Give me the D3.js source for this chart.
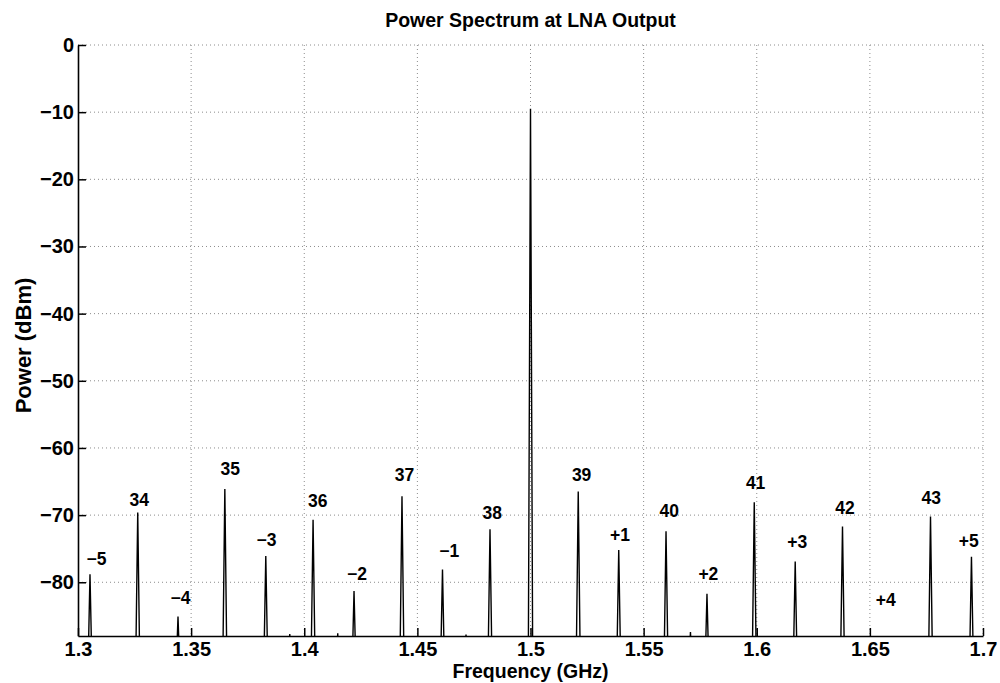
<!DOCTYPE html>
<html>
<head>
<meta charset="utf-8">
<script src="https://cdn.jsdelivr.net/npm/d3@7"></script>
<style>
  body { margin: 0; background: #fff; }
  text { font-family: "Liberation Sans", Arial, sans-serif; font-weight: bold; fill: #000; }
</style>
</head>
<body>
<svg></svg>
<script>
let width = 1000
let height = 683
let margin = { top: 45, right: 17, bottom: 47, left: 78 }

// spectral lines: frequency (GHz) and peak power (dBm)
let lineFreqs = [1.3053, 1.3264, 1.3442, 1.3649, 1.3830, 1.3936, 1.4039, 1.4148, 1.4220, 1.4432,
                 1.4611, 1.4715, 1.4821, 1.5000, 1.5211, 1.5390, 1.5599, 1.5707, 1.5780, 1.5989,
                 1.6170, 1.6379, 1.6768, 1.6949]
let linePeaks = [-78.8, -69.6, -85.1, -66.1, -76.1, -87.7, -70.7, -87.6, -81.3, -67.2,
                 -78.1, -87.8, -72.1, -9.5, -66.5, -75.2, -72.4, -87.4, -81.7, -68.1,
                 -76.9, -71.7, -70.2, -76.2]
let noiseFloor = -95

// annotations placed in data coordinates (left edge, vertical middle)
let labelTexts = ['\u22125', '34', '\u22124', '35', '\u22123', '36', '\u22122', '37', '\u22121', '38',
                  '39', '+1', '40', '+2', '41', '+3', '42', '+4', '43', '+5']
let labelFreqs = [1.3038, 1.3228, 1.3409, 1.3630, 1.3789, 1.4017, 1.4189, 1.4400, 1.4597, 1.4788,
                  1.5183, 1.5351, 1.5570, 1.5742, 1.5952, 1.6135, 1.6347, 1.6526, 1.6728, 1.6893]
let labelPowers = [-76.5, -67.7, -82.3, -63.1, -73.7, -67.9, -78.8, -64.0, -75.3, -69.7,
                   -64.0, -72.9, -69.3, -78.8, -65.2, -74.0, -68.9, -82.6, -67.5, -73.9]

let xTicks = [1.3, 1.35, 1.4, 1.45, 1.5, 1.55, 1.6, 1.65, 1.7]
let yTicks = [0, -10, -20, -30, -40, -50, -60, -70, -80]

let x = d3.scaleLinear()
          .domain([1.3, 1.7])
          .range([margin.left, width - margin.right])

let y = d3.scaleLinear()
          .domain([-88, 0])
          .range([height - margin.bottom, margin.top])

let svg = d3.select('svg')
    .attr('width', width)
    .attr('height', height)

svg.append('defs')
  .append('clipPath')
    .attr('id', 'plot-clip')
  .append('rect')
    .attr('x', x(1.3))
    .attr('y', y(0))
    .attr('width', x(1.7) - x(1.3))
    .attr('height', y(-88) - y(0))

// dotted grid
let grid = svg.append('g')
    .attr('stroke', '#8c8c8c')
    .attr('stroke-width', 1)
    .attr('stroke-dasharray', '1,3')

grid.selectAll('.vgrid')
  .data(xTicks.slice(1))
  .enter()
  .append('line')
    .attr('x1', d => x(d))
    .attr('x2', d => x(d))
    .attr('y1', y(0))
    .attr('y2', y(-88))

grid.selectAll('.hgrid')
  .data(yTicks)
  .enter()
  .append('line')
    .attr('x1', x(1.3))
    .attr('x2', x(1.7))
    .attr('y1', d => y(d))
    .attr('y2', d => y(d))

// spectrum trace
let halfWidth = 0.001
let points = []
lineFreqs.forEach((f, i) => {
  points.push([f - halfWidth, noiseFloor])
  points.push([f, linePeaks[i]])
  points.push([f + halfWidth, noiseFloor])
})

let line = d3.line()
              .x(d => x(d[0]))
              .y(d => y(d[1]))

svg.append('path')
    .datum(points)
    .attr('clip-path', 'url(#plot-clip)')
    .attr('fill', 'none')
    .attr('stroke', '#000')
    .attr('stroke-width', 1.4)
    .attr('d', line)

// axes with inward ticks
let xAxis = d3.axisBottom(x)
              .tickValues(xTicks)
              .tickSizeInner(-8)
              .tickSizeOuter(0)
              .tickPadding(6)
              .tickFormat(d3.format('~g'))

let yAxis = d3.axisLeft(y)
              .tickValues(yTicks)
              .tickSizeInner(-8)
              .tickSizeOuter(0)
              .tickPadding(4)
              .tickFormat(d => d === 0 ? '0' : '\u2212' + Math.abs(d))

let gx = svg.append('g')
    .attr('transform', `translate(0, ${y(-88)})`)
    .call(xAxis)

let gy = svg.append('g')
    .attr('transform', `translate(${x(1.3)}, 0)`)
    .call(yAxis)

;[gx, gy].forEach(g => {
  g.select('.domain').attr('stroke', '#000').attr('stroke-width', 1.6)
  g.selectAll('.tick line').attr('stroke', '#000').attr('stroke-width', 1.5)
  g.selectAll('.tick text')
    .style('font-family', '"Liberation Sans", Arial, sans-serif')
    .style('font-weight', 'bold')
    .style('font-size', '20px')
    .attr('fill', '#000')
})

// annotations
svg.append('g')
  .selectAll('text')
  .data(labelTexts)
  .enter()
  .append('text')
    .attr('x', (d, i) => x(labelFreqs[i]))
    .attr('y', (d, i) => y(labelPowers[i]))
    .attr('dy', '0.35em')
    .style('font-size', '17.5px')
    .text(d => d)

// titles
svg.append('text')
    .attr('x', (x(1.3) + x(1.7)) / 2)
    .attr('y', 27)
    .attr('text-anchor', 'middle')
    .style('font-size', '19.5px')
    .text('Power Spectrum at LNA Output')

svg.append('text')
    .attr('x', (x(1.3) + x(1.7)) / 2)
    .attr('y', 678)
    .attr('text-anchor', 'middle')
    .style('font-size', '19.5px')
    .text('Frequency (GHz)')

svg.append('text')
    .attr('transform', `translate(31, ${(y(0) + y(-88)) / 2 + 5}) rotate(-90)`)
    .attr('text-anchor', 'middle')
    .style('font-size', '22px')
    .text('Power (dBm)')
</script>
</body>
</html>
